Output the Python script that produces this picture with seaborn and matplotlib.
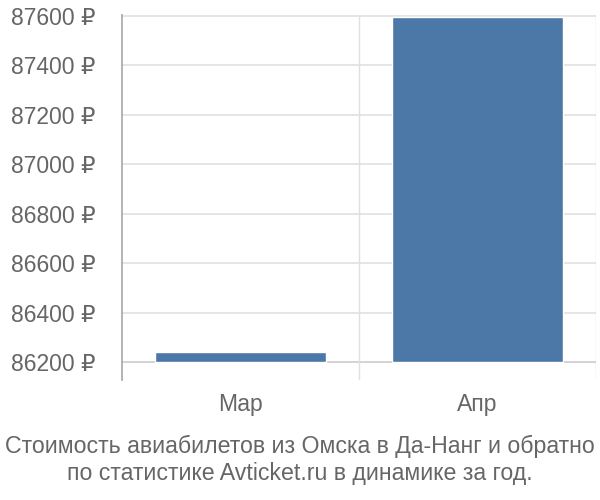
import numpy as np
import pandas as pd
import seaborn as sns
import matplotlib.pyplot as plt

months = ["Мар", "Апр"]
prices = [86240, 87595]
y_ticks = [86200, 86400, 86600, 86800, 87000, 87200, 87400, 87600]
title = "Стоимость авиабилетов из Омска в Да-Нанг и обратно\nпо статистике Avticket.ru в динамике за год."

sns.set_theme(style="white")
plt.rcParams["font.family"] = ["Liberation Sans", "DejaVu Sans"]

df = pd.DataFrame({"month": months, "price": prices})
base = 86200

fig = plt.figure(figsize=(6, 5), dpi=100)
ax = fig.add_axes([122 / 600, 1 - 380 / 500, 474 / 600, 365 / 500])

sns.barplot(data=df, x="month", y=np.array(prices) - base, bottom=base,
            color="#4c78a8", saturation=1, width=0.72, ax=ax)

ax.set_ylim(86127, 87604)
ax.set_xlim(-0.5, 1.5)
ax.set_yticks(y_ticks)
ax.set_yticklabels([f"{v} ₽" for v in y_ticks])
ax.set_xlabel("")
ax.set_ylabel("")

for v in y_ticks:
    ax.axhline(v, color="#cccccc" if v == base else "#e0e0e0", lw=1.2, zorder=0)
for xv in [0.5, 1.5]:
    ax.axvline(xv, color="#e0e0e0", lw=1, zorder=0)

for s in ["top", "right", "bottom"]:
    ax.spines[s].set_visible(False)
ax.spines["left"].set_color("#aaaaaa")
ax.tick_params(axis="y", length=18, color="#e0e0e0", labelsize=16.5, labelcolor="#666666", pad=1)
ax.tick_params(axis="x", length=0, labelsize=16.5, labelcolor="#666666", pad=9)

fig.text(0.5, 1 - 460 / 500, title, ha="center", va="center", fontsize=16.7,
         color="#666666", linespacing=1.25)

fig.savefig("out.png", dpi=100)
